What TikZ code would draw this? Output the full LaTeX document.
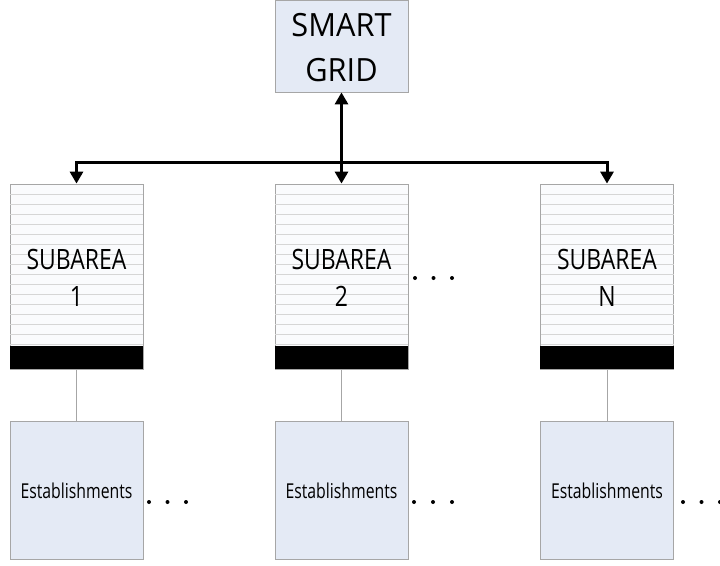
\documentclass[tikz,border=0pt]{standalone}
\usepackage{fontspec}
\setmainfont{Open Sans}
\newfontfamily\fsg{Open Sans}[FakeStretch=0.96]
\newfontfamily\fsub{Open Sans}[FakeStretch=0.82]
\newfontfamily\fest{Open Sans}[FakeStretch=0.77]
\usetikzlibrary{arrows.meta}
\definecolor{boxgray}{HTML}{A6A6A6}
\definecolor{lightblue}{HTML}{E4EAF5}
\definecolor{stripebg}{HTML}{FAFBFD}
\definecolor{stripeline}{HTML}{D6D6D6}
\definecolor{thinline}{HTML}{A6A6A6}
\begin{document}
\begin{tikzpicture}[x=1pt,y=-1pt,
  gridbox/.style={draw=boxgray, line width=0.8pt, fill=lightblue, minimum width=133pt, minimum height=92pt, inner sep=0pt},
  subbox/.style={draw=boxgray, line width=0.8pt, fill=stripebg, minimum width=133pt, minimum height=185pt, inner sep=0pt},
  barbox/.style={fill=black, draw=none, minimum width=133.8pt, minimum height=23pt, inner sep=0pt},
  estbox/.style={draw=boxgray, line width=0.8pt, fill=lightblue, minimum width=133pt, minimum height=138pt, inner sep=0pt},
  stripe/.style={draw=stripeline, line width=1pt},
  subtext/.style={align=center, font=\fsub\fontsize{28}{37}\selectfont, inner sep=0pt},
  bigarrow/.style={line width=3pt, {Triangle[length=12pt,width=13pt]}-{Triangle[length=12pt,width=13pt]}},
  link/.style={draw=thinline, line width=0.8pt},
  dotmark/.style={fill=black}
]
\useasboundingbox (0,0) rectangle (720,565);

% smart grid
\node[gridbox] (sg) at (341.5,46) {};
\node[align=center, font=\fsg\fontsize{32}{45}\selectfont, inner sep=0pt] (sgt) at (341.5,48) {SMART\\GRID};

% subareas
\foreach \i/\cx/\lab in {1/76.5/1, 2/341.5/2, 3/607/N} {
  \node[subbox] (s\i) at (\cx,276.5) {};
  \foreach \k in {0,...,15} {
    \draw[stripe] ({\cx-66.5},{194+10*\k}) -- ({\cx+66.5},{194+10*\k});
  }
  \node[barbox] (b\i) at (\cx,357.5) {};
  \node[subtext] (t\i) at (\cx,278) {SUBAREA\\\lab};
  \node[estbox] (e\i) at (\cx,490) {};
  \node[font=\fest\fontsize{20.5}{24}\selectfont, inner sep=0pt] (et\i) at (\cx,491) {Establishments};
  \draw[link] (b\i.south) -- (e\i.north);
}

% arrows
\coordinate (jy) at (0,162);
\draw[bigarrow] (s1.north) -- (s1.north |- jy) -- (s3.north |- jy) -- (s3.north);
\draw[bigarrow] (sg.south) -- (s2.north);

% dots
\foreach \x in {415,433.5,452} \fill[dotmark] (\x,278) circle (2);
\foreach \x in {149,167.5,186, 414,433,452, 683,701.5,720} \fill[dotmark] (\x,502) circle (2);
\end{tikzpicture}
\end{document}
